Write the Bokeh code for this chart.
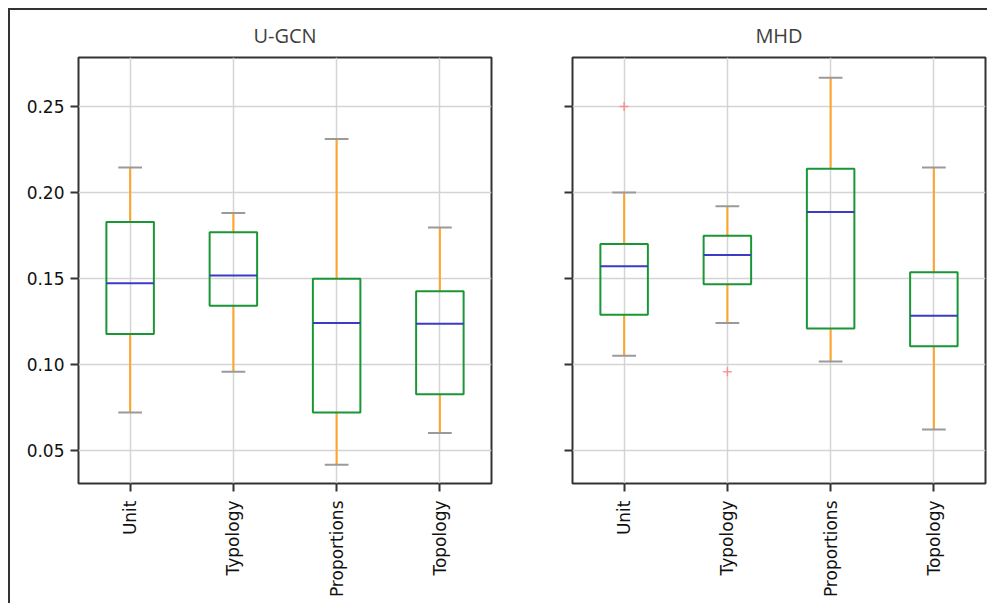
import math
from bokeh.plotting import figure
from bokeh.layouts import row
from bokeh.models import (FactorRange, Range1d, ColumnDataSource, CustomJSTickFormatter,
                          FixedTicker, PrintfTickFormatter)
from bokeh.transform import dodge
from bokeh.embed import file_html
from bokeh.resources import INLINE

categories = ["Unit", "Typology", "Proportions", "Topology"]
y_ticks = [0.05, 0.10, 0.15, 0.20, 0.25]

# U-GCN
ugcn_lower = [0.0723, 0.0959, 0.0419, 0.0604]
ugcn_q1 = [0.1178, 0.1342, 0.0722, 0.0829]
ugcn_med = [0.1474, 0.1518, 0.1243, 0.1238]
ugcn_q3 = [0.1830, 0.1770, 0.1500, 0.1427]
ugcn_upper = [0.2146, 0.1882, 0.2312, 0.1797]
ugcn_out_cats = []
ugcn_out_vals = []

# MHD
mhd_lower = [0.1052, 0.1243, 0.1019, 0.0624]
mhd_q1 = [0.1290, 0.1468, 0.1210, 0.1108]
mhd_med = [0.1572, 0.1638, 0.1888, 0.1284]
mhd_q3 = [0.1702, 0.1749, 0.2138, 0.1538]
mhd_upper = [0.2000, 0.1921, 0.2667, 0.2146]
mhd_out_cats = ["Unit", "Typology"]
mhd_out_vals = [0.2500, 0.0959]

y_range = Range1d(start=0.031, end=0.2785)

BOX_W = 0.46
CAP_W = 0.23


def make_panel(title, lower, q1, med, q3, upper, out_cats, out_vals,
               show_labels, width, mb_left, mb_right):
    p = figure(x_range=FactorRange(*categories), y_range=y_range,
               width=width, height=593, output_backend="svg",
               toolbar_location=None, title=title,
               min_border_left=mb_left, min_border_right=mb_right,
               min_border_top=47, min_border_bottom=120)
    p.title.align = "center"
    p.title.text_font = "Open Sans"
    p.title.text_font_size = "20px"
    p.title.text_font_style = "normal"
    p.title.text_color = "#404040"
    p.title.standoff = 18

    p.outline_line_color = "#333333"
    p.outline_line_width = 2
    p.outline_line_alpha = 1.0

    for g in (p.xgrid, p.ygrid):
        g.grid_line_color = "#d4d4d4"
        g.grid_line_width = 1.5
    p.yaxis.ticker = FixedTicker(ticks=y_ticks)

    for ax in (p.xaxis, p.yaxis):
        ax.axis_line_color = None
        ax.major_tick_line_color = "#333333"
        ax.major_tick_line_width = 2
        ax.major_tick_in = 0
        ax.major_tick_out = 8
        ax.minor_tick_line_color = None
        ax.major_label_text_font = "DejaVu Sans"
        ax.major_label_text_font_size = "17px"
        ax.major_label_text_color = "#111111"
    p.xaxis.major_label_orientation = math.pi / 2
    p.xaxis.major_label_standoff = 9
    p.yaxis.major_label_standoff = 6
    if show_labels:
        p.yaxis.formatter = PrintfTickFormatter(format="%.2f")
    else:
        p.yaxis.formatter = CustomJSTickFormatter(code="return ''")

    src = ColumnDataSource(dict(cat=categories, lower=lower, q1=q1, med=med,
                                q3=q3, upper=upper))
    orange = "#ffa329"
    p.segment(x0="cat", y0="q3", x1="cat", y1="upper", source=src,
              line_color=orange, line_width=2)
    p.segment(x0="cat", y0="lower", x1="cat", y1="q1", source=src,
              line_color=orange, line_width=2)
    p.vbar(x="cat", width=BOX_W, bottom="q1", top="q3", source=src,
           fill_color=None, line_color="#1a9636", line_width=2)
    p.segment(x0=dodge("cat", -BOX_W / 2, range=p.x_range), y0="med",
              x1=dodge("cat", BOX_W / 2, range=p.x_range), y1="med",
              source=src, line_color="#3b3bc4", line_width=2)
    for key in ("upper", "lower"):
        p.segment(x0=dodge("cat", -CAP_W / 2, range=p.x_range), y0=key,
                  x1=dodge("cat", CAP_W / 2, range=p.x_range), y1=key,
                  source=src, line_color="#9a9a9a", line_width=2)
    if out_cats:
        p.scatter(x=out_cats, y=out_vals, marker="cross", size=9,
                  line_color="#ff8080", line_width=1.5, line_alpha=0.8)
    return p


p1 = make_panel("U-GCN", ugcn_lower, ugcn_q1, ugcn_med, ugcn_q3, ugcn_upper,
                ugcn_out_cats, ugcn_out_vals, True, 485, 68, 4)
p2 = make_panel("MHD", mhd_lower, mhd_q1, mhd_med, mhd_q3, mhd_upper,
                mhd_out_cats, mhd_out_vals, False, 492, 77, 2)

layout = row(p1, p2, styles={"border-top": "2px solid #333333",
                             "border-left": "2px solid #333333",
                             "margin-left": "8px", "margin-top": "8px"})

open("out.html", "w").write(file_html(layout, INLINE))
